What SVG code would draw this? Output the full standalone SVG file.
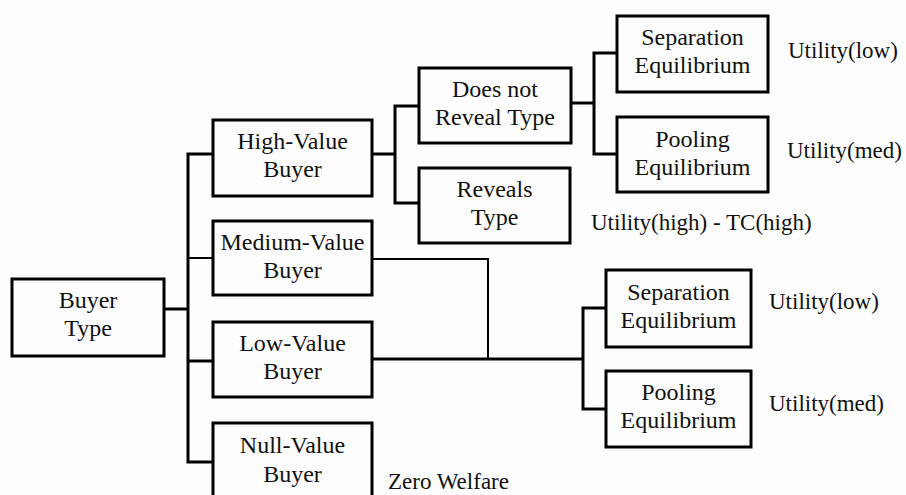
<svg xmlns="http://www.w3.org/2000/svg" width="906" height="495" viewBox="0 0 906 495">
  <style>
    .box { fill: none; stroke: #000; stroke-width: 3; }
    .wire { fill: none; stroke: #000; stroke-width: 3; stroke-linejoin: miter; }
    .thin { stroke-width: 2; }
    text { font-family: "Liberation Serif", "Times New Roman", serif; font-size: 24px; fill: #111; }
    .c { text-anchor: middle; }
    .out { font-size: 23px; }
  </style>
  <rect width="906" height="495" fill="#fdfdfd"/>

  <!-- connectors -->
  <g id="connectors">
    <path class="wire" d="M164,309 H188"/>
    <path class="wire" d="M213,154 H188 V462 H213"/>
    <path class="wire" d="M188,361 H213"/>
    <path class="wire thin" d="M188,258 H213"/>
    <path class="wire" d="M372,154 H395"/>
    <path class="wire" d="M419,106 H395 V203 H419"/>
    <path class="wire" d="M571,103 H594"/>
    <path class="wire" d="M617,53 H594 V154 H617"/>
    <path class="wire thin" d="M372,259 H488 V359"/>
    <path class="wire" d="M372,359 H583"/>
    <path class="wire" d="M606,308 H583 V409 H606"/>
  </g>

  <g id="buyer-type">
    <rect class="box" x="12" y="279" width="152" height="77"/>
    <text class="c" x="88" y="308">Buyer</text>
    <text class="c" x="88" y="336">Type</text>
  </g>
  <g id="high-value">
    <rect class="box" x="213" y="120" width="159" height="76"/>
    <text class="c" x="292.5" y="149">High-Value</text>
    <text class="c" x="292.5" y="177">Buyer</text>
  </g>
  <g id="medium-value">
    <rect class="box" x="213" y="221" width="159" height="74"/>
    <text class="c" x="292.5" y="250">Medium-Value</text>
    <text class="c" x="292.5" y="278">Buyer</text>
  </g>
  <g id="low-value">
    <rect class="box" x="213" y="322" width="159" height="75"/>
    <text class="c" x="292.5" y="351">Low-Value</text>
    <text class="c" x="292.5" y="379">Buyer</text>
  </g>
  <g id="null-value">
    <rect class="box" x="213" y="423" width="159" height="80"/>
    <text class="c" x="292.5" y="453">Null-Value</text>
    <text class="c" x="292.5" y="482">Buyer</text>
  </g>
  <g id="not-reveal">
    <rect class="box" x="419" y="68" width="152" height="75"/>
    <text class="c" x="495" y="97">Does not</text>
    <text class="c" x="495" y="125">Reveal Type</text>
  </g>
  <g id="reveals">
    <rect class="box" x="419" y="168" width="151" height="75"/>
    <text class="c" x="494.5" y="197">Reveals</text>
    <text class="c" x="494.5" y="225">Type</text>
  </g>
  <g id="separation-1">
    <rect class="box" x="617" y="16" width="151" height="76"/>
    <text class="c" x="692.5" y="45">Separation</text>
    <text class="c" x="692.5" y="73">Equilibrium</text>
  </g>
  <g id="pooling-1">
    <rect class="box" x="617" y="117" width="151" height="75"/>
    <text class="c" x="692.5" y="147">Pooling</text>
    <text class="c" x="692.5" y="175">Equilibrium</text>
  </g>
  <g id="separation-2">
    <rect class="box" x="606" y="270" width="145" height="77"/>
    <text class="c" x="678.5" y="300">Separation</text>
    <text class="c" x="678.5" y="328">Equilibrium</text>
  </g>
  <g id="pooling-2">
    <rect class="box" x="606" y="371" width="145" height="76"/>
    <text class="c" x="678.5" y="400">Pooling</text>
    <text class="c" x="678.5" y="428">Equilibrium</text>
  </g>

  <!-- outcome labels -->
  <g id="outcomes">
    <text class="out" x="788" y="58">Utility(low)</text>
    <text class="out" x="787" y="158">Utility(med)</text>
    <text class="out" x="591" y="230">Utility(high) - TC(high)</text>
    <text class="out" x="769" y="309">Utility(low)</text>
    <text class="out" x="769" y="411">Utility(med)</text>
    <text class="out" x="388" y="489">Zero Welfare</text>
  </g>
</svg>
